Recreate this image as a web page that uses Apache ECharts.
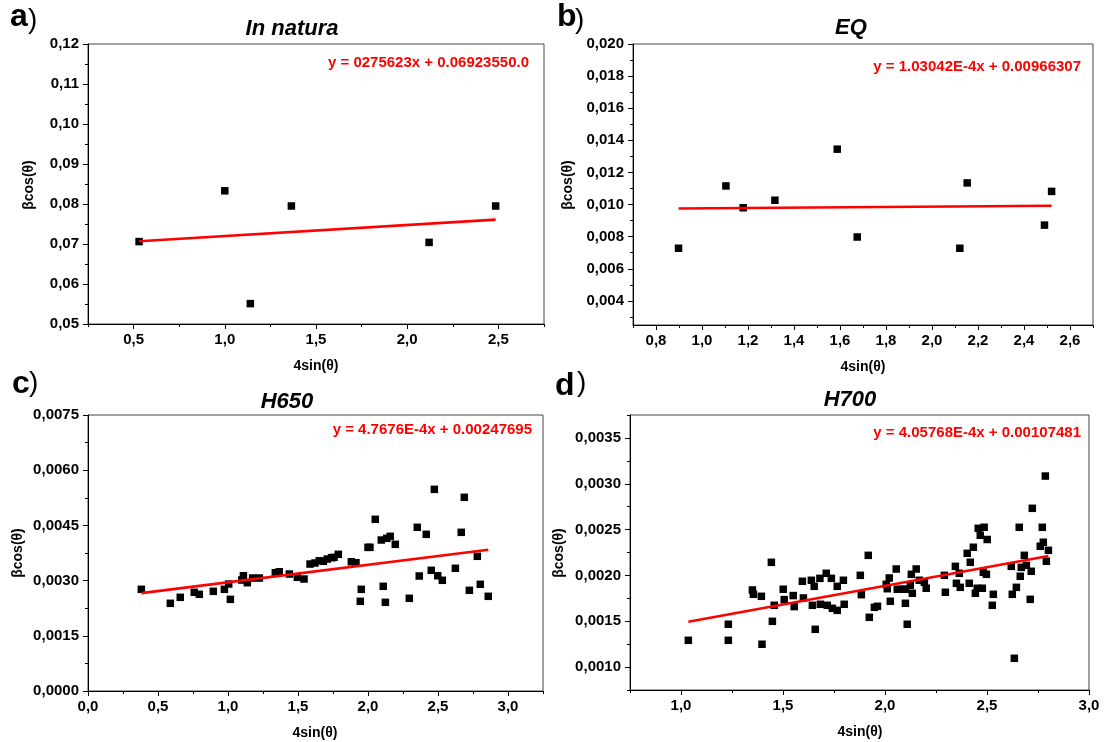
<!DOCTYPE html>
<html>
<head>
<meta charset="utf-8">
<script src="https://cdn.jsdelivr.net/npm/echarts@6/dist/echarts.min.js"></script>
<style>
  html, body { margin: 0; padding: 0; background: #fff; }
  #chart { width: 1105px; height: 742px; }
</style>
</head>
<body>
<div id="chart"></div>
<script>
// ---- a) In natura ----
const aX = [0.53, 1.00, 1.14, 1.365, 2.12, 2.485];
const aY = [0.0706, 0.0833, 0.0551, 0.0795, 0.0704, 0.0795];
const aFit = [0.00275623, 0.0692355];
const aEq = 'y = 0275623x + 0.06923550.0';

// ---- b) EQ ----
const bX = [0.898, 1.104, 1.179, 1.317, 1.588, 1.675, 2.121, 2.153, 2.489, 2.52];
const bY = [0.00728, 0.01116, 0.0098, 0.01027, 0.01345, 0.00798, 0.00728, 0.01135, 0.00872, 0.01082];
const bFit = [1.03042e-4, 0.00966307];
const bEq = 'y = 1.03042E-4x + 0.00966307';

// ---- c) H650 ----
const cX = [0.381, 0.588, 0.659, 0.759, 0.795, 0.895, 0.974, 1.005, 1.017, 1.098,
  1.11, 1.138, 1.176, 1.224, 1.338, 1.366, 1.438, 1.495, 1.543, 1.586,
  1.621, 1.652, 1.681, 1.709, 1.740, 1.757, 1.788, 1.881, 1.914, 1.945,
  1.952, 2.0, 2.014, 2.052, 2.095, 2.109, 2.124, 2.134, 2.159, 2.195,
  2.295, 2.352, 2.366, 2.416, 2.452, 2.474, 2.498, 2.531, 2.624, 2.666,
  2.688, 2.724, 2.781, 2.802, 2.859];
const cY = [0.002763, 0.002383, 0.002546, 0.002682, 0.002627, 0.002709, 0.002763, 0.002907, 0.002491, 0.003016,
  0.003133, 0.002943, 0.00307, 0.00307, 0.003214, 0.003241, 0.003179, 0.003089, 0.003043, 0.00345,
  0.003478, 0.00354, 0.003524, 0.003586, 0.003622, 0.003632, 0.003714, 0.003513, 0.003486, 0.002437,
  0.002763, 0.003904, 0.003904, 0.004665, 0.004103, 0.002845, 0.00241, 0.004149, 0.004203, 0.003986,
  0.002519, 0.004448, 0.003125, 0.004258, 0.00328, 0.00548, 0.003133, 0.003008, 0.003334, 0.004312,
  0.005263, 0.002736, 0.00366, 0.002899, 0.002573];
const cFit = [4.7676e-4, 0.00247695];
const cEq = 'y = 4.7676E-4x + 0.00247695';

// ---- d) H700 ----
const dX = [1.036, 1.232, 1.232, 1.35, 1.355, 1.394, 1.397, 1.443, 1.448, 1.457,
  1.501, 1.506, 1.55, 1.555, 1.595, 1.6, 1.639, 1.644, 1.653, 1.658,
  1.681, 1.683, 1.712, 1.717, 1.737, 1.742, 1.766, 1.766, 1.796, 1.8,
  1.879, 1.884, 1.918, 1.923, 1.948, 1.963, 2.006, 2.011, 2.021, 2.026,
  2.055, 2.06, 2.085, 2.1, 2.1, 2.109, 2.124, 2.129, 2.134, 2.153,
  2.168, 2.193, 2.202, 2.291, 2.296, 2.345, 2.35, 2.364, 2.369, 2.403,
  2.413, 2.418, 2.433, 2.443, 2.452, 2.457, 2.467, 2.477, 2.482, 2.486,
  2.497, 2.501, 2.526, 2.531, 2.619, 2.624, 2.634, 2.644, 2.658, 2.663,
  2.668, 2.683, 2.693, 2.712, 2.717, 2.722, 2.761, 2.771, 2.776, 2.786,
  2.791, 2.801];
const dY = [0.001292, 0.001467, 0.001292, 0.001841, 0.001794, 0.001772, 0.001249, 0.002143, 0.001499, 0.001674,
  0.001849, 0.001736, 0.00178, 0.00166, 0.001936, 0.001754, 0.001947, 0.001674, 0.001881, 0.001412,
  0.001968, 0.001685, 0.002023, 0.001674, 0.001968, 0.001641, 0.001881, 0.001619, 0.001947, 0.001685,
  0.002001, 0.00179, 0.002219, 0.001543, 0.001652, 0.001663, 0.001903, 0.001855, 0.001972, 0.001718,
  0.00207, 0.001849, 0.001849, 0.001849, 0.001696, 0.001467, 0.001892, 0.002012, 0.001805, 0.00207,
  0.001947, 0.001925, 0.00186, 0.002001, 0.001816, 0.002099, 0.001914, 0.002023, 0.00187, 0.002241,
  0.001914, 0.002143, 0.002307, 0.001805, 0.00186, 0.002514, 0.002438, 0.00186, 0.002034, 0.002525,
  0.002012, 0.002392, 0.001674, 0.001794, 0.002099, 0.001794, 0.001096, 0.00187, 0.002525, 0.001991,
  0.002088, 0.002219, 0.00211, 0.001739, 0.002045, 0.002732, 0.002318, 0.002525, 0.002362, 0.003084,
  0.002154, 0.002274];
const dFit = [4.05768e-4, 0.00107481];
const dEq = 'y = 4.05768E-4x + 0.00107481';

// ---- tick values ----
const aXTicks = [0.5, 1.0, 1.5, 2.0, 2.5];
const aXMinor = [0.25, 0.75, 1.25, 1.75, 2.25, 2.75];
const aYTicks = [0.05, 0.06, 0.07, 0.08, 0.09, 0.10, 0.11, 0.12];
const aYMinor = [0.055, 0.065, 0.075, 0.085, 0.095, 0.105, 0.115];

const bXTicks = [0.8, 1.0, 1.2, 1.4, 1.6, 1.8, 2.0, 2.2, 2.4, 2.6];
const bXMinor = [0.7, 0.9, 1.1, 1.3, 1.5, 1.7, 1.9, 2.1, 2.3, 2.5, 2.7];
const bYTicks = [0.004, 0.006, 0.008, 0.010, 0.012, 0.014, 0.016, 0.018, 0.020];
const bYMinor = [0.003, 0.005, 0.007, 0.009, 0.011, 0.013, 0.015, 0.017, 0.019];

const cXTicks = [0.0, 0.5, 1.0, 1.5, 2.0, 2.5, 3.0];
const cXMinor = [0.25, 0.75, 1.25, 1.75, 2.25, 2.75, 3.25];
const cYTicks = [0.0, 0.0015, 0.0030, 0.0045, 0.0060, 0.0075];
const cYMinor = [0.00075, 0.00225, 0.00375, 0.00525, 0.00675];

const dXTicks = [1.0, 1.5, 2.0, 2.5, 3.0];
const dXMinor = [0.75, 1.25, 1.75, 2.25, 2.75];
const dYTicks = [0.0010, 0.0015, 0.0020, 0.0025, 0.0030, 0.0035];
const dYMinor = [0.00075, 0.00125, 0.00175, 0.00225, 0.00275, 0.00325, 0.00375];

const FONT = '"Liberation Sans", Arial, Helvetica, sans-serif';

// panel layout: grid box, axis ranges, text positions
const panels = [
  { letter: 'a', title: 'In natura', xs: aX, ys: aY, fit: aFit, eq: aEq,
    grid: { left: 88, top: 44, width: 456, height: 280 },
    x: [0.25, 2.75, aXTicks, aXMinor, 1], y: [0.05, 0.12, aYTicks, aYMinor, 2],
    letterPos: [10, 17], parenPos: [28, 20], titlePos: [292, 29], eqPos: [529, 63],
    yNamePos: [29, 185], xNamePos: [316, 366] },
  { letter: 'b', title: 'EQ', xs: bX, ys: bY, fit: bFit, eq: bEq,
    grid: { left: 633, top: 44, width: 460, height: 281 },
    x: [0.7, 2.7, bXTicks, bXMinor, 1], y: [0.0025, 0.020, bYTicks, bYMinor, 3],
    letterPos: [557, 17], parenPos: [575, 20], titlePos: [851, 28], eqPos: [1081, 67],
    yNamePos: [568, 185], xNamePos: [863, 367] },
  { letter: 'c', title: 'H650', xs: cX, ys: cY, fit: cFit, eq: cEq,
    grid: { left: 88, top: 415, width: 455, height: 276 },
    x: [0, 3.25, cXTicks, cXMinor, 1], y: [0, 0.0075, cYTicks, cYMinor, 4],
    letterPos: [12, 384], parenPos: [29, 383], titlePos: [287, 402], eqPos: [532, 430],
    yNamePos: [18, 553], xNamePos: [315, 733] },
  { letter: 'd', title: 'H700', xs: dX, ys: dY, fit: dFit, eq: dEq,
    grid: { left: 630, top: 415, width: 459, height: 275 },
    x: [0.75, 3.0, dXTicks, dXMinor, 1], y: [0.00075, 0.00375, dYTicks, dYMinor, 4],
    letterPos: [555, 386], parenPos: [577, 383], titlePos: [850, 400], eqPos: [1081, 433],
    yNamePos: [559, 553], xNamePos: [860, 732] }
];

const fmt = (d) => (v) => v.toFixed(d).replace('.', ',');

const grids = [], xAxes = [], yAxes = [], series = [], graphics = [];

panels.forEach((p, i) => {
  grids.push(Object.assign({ show: true, borderColor: '#444', borderWidth: 1,
    backgroundColor: 'transparent', containLabel: false }, p.grid));

  const labelStyle = { fontFamily: FONT, fontWeight: 'bold', fontSize: 15, color: '#000' };
  // major axes
  xAxes.push({ gridIndex: i, type: 'value', position: 'bottom', min: p.x[0], max: p.x[1],
    axisLine: { show: true, onZero: false, lineStyle: { color: '#000', width: 1 } },
    axisTick: { show: true, inside: false, length: 5, customValues: p.x[2], lineStyle: { color: '#000' } },
    axisLabel: Object.assign({ customValues: p.x[2], formatter: fmt(p.x[4]), margin: 8 }, labelStyle),
    splitLine: { show: false } });
  yAxes.push({ gridIndex: i, type: 'value', position: 'left', min: p.y[0], max: p.y[1],
    axisLine: { show: true, onZero: false, lineStyle: { color: '#000', width: 1 } },
    axisTick: { show: true, inside: false, length: 5, customValues: p.y[2], lineStyle: { color: '#000' } },
    axisLabel: Object.assign({ customValues: p.y[2], formatter: fmt(p.y[4]), margin: 9 }, labelStyle),
    splitLine: { show: false } });
  // minor tick axes
  xAxes.push({ gridIndex: i, type: 'value', position: 'bottom', min: p.x[0], max: p.x[1],
    axisLine: { show: false, onZero: false },
    axisTick: { show: true, inside: false, length: 3, customValues: p.x[3], lineStyle: { color: '#000' } },
    axisLabel: { show: false }, splitLine: { show: false } });
  yAxes.push({ gridIndex: i, type: 'value', position: 'left', min: p.y[0], max: p.y[1],
    axisLine: { show: false, onZero: false },
    axisTick: { show: true, inside: false, length: 3, customValues: p.y[3], lineStyle: { color: '#000' } },
    axisLabel: { show: false }, splitLine: { show: false } });

  const xa = 2 * i, ya = 2 * i;
  series.push({ type: 'scatter', xAxisIndex: xa, yAxisIndex: ya, symbol: 'rect', symbolSize: 7.5,
    itemStyle: { color: '#000', opacity: 1 }, data: p.xs.map((x, k) => [x, p.ys[k]]), z: 2 });

  const x0 = Math.min(...p.xs), x1 = Math.max(...p.xs);
  series.push({ type: 'line', xAxisIndex: xa, yAxisIndex: ya, showSymbol: false, symbol: 'none',
    lineStyle: { color: '#ff0000', width: 2.6 }, z: 3,
    data: [[x0, p.fit[0] * x0 + p.fit[1]], [x1, p.fit[0] * x1 + p.fit[1]]] });

  // panel letter
  graphics.push({ type: 'text', x: p.letterPos[0], y: p.letterPos[1],
    style: { text: p.letter, fontFamily: FONT, fontWeight: 'bold', fontSize: 32, fill: '#000',
      align: 'left', verticalAlign: 'middle' } });
  graphics.push({ type: 'text', x: p.parenPos[0], y: p.parenPos[1],
    style: { text: ')', fontFamily: FONT, fontWeight: 'normal', fontSize: 28, fill: '#000',
      align: 'left', verticalAlign: 'middle' } });
  // title
  graphics.push({ type: 'text', x: p.titlePos[0], y: p.titlePos[1],
    style: { text: p.title, fontFamily: FONT, fontWeight: 'bold', fontStyle: 'italic', fontSize: 22,
      fill: '#000', align: 'center', verticalAlign: 'middle' } });
  // fit equation
  graphics.push({ type: 'text', x: p.eqPos[0], y: p.eqPos[1],
    style: { text: p.eq, fontFamily: FONT, fontWeight: 'bold', fontSize: 15, fill: '#ff0000',
      align: 'right', verticalAlign: 'middle' } });
  // axis names
  graphics.push({ type: 'text', x: p.yNamePos[0], y: p.yNamePos[1], rotation: Math.PI / 2,
    style: { text: 'βcos(θ)', fontFamily: FONT, fontWeight: 'bold', fontSize: 14, fill: '#000',
      align: 'center', verticalAlign: 'middle' } });
  graphics.push({ type: 'text', x: p.xNamePos[0], y: p.xNamePos[1],
    style: { text: '4sin(θ)', fontFamily: FONT, fontWeight: 'bold', fontSize: 14, fill: '#000',
      align: 'center', verticalAlign: 'middle' } });
});

const chart = echarts.init(document.getElementById('chart'), null, { renderer: 'canvas' });
chart.setOption({
  animation: false,
  backgroundColor: '#ffffff',
  grid: grids,
  xAxis: xAxes,
  yAxis: yAxes,
  series: series,
  graphic: { elements: graphics }
});
</script>
</body>
</html>
